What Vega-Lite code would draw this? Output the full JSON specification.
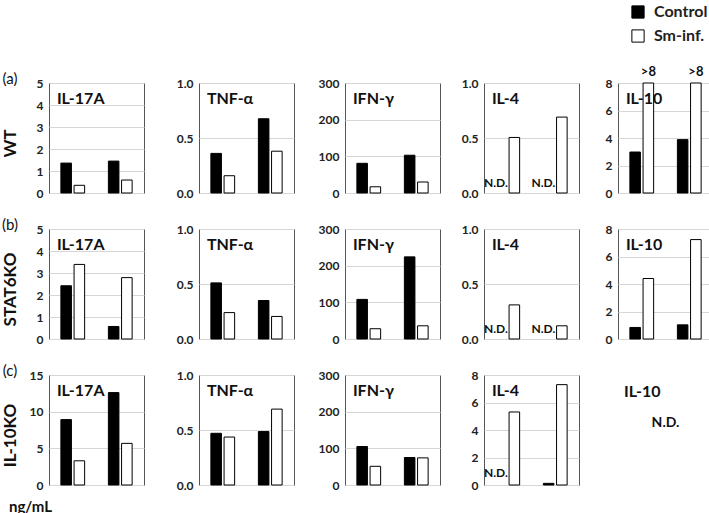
{
  "$schema": "https://vega.github.io/schema/vega-lite/v6.json",
  "padding": {"left": 0, "top": 4, "right": 0, "bottom": 0},
  "datasets": {
    "d": [
      {"genotype": "WT", "cytokine": "IL-17A", "group": "1", "condition": "Control", "value": 1.36, "note": null},
      {"genotype": "WT", "cytokine": "IL-17A", "group": "1", "condition": "Sm-inf.", "value": 0.35, "note": null},
      {"genotype": "WT", "cytokine": "IL-17A", "group": "2", "condition": "Control", "value": 1.45, "note": null},
      {"genotype": "WT", "cytokine": "IL-17A", "group": "2", "condition": "Sm-inf.", "value": 0.59, "note": null},
      {"genotype": "WT", "cytokine": "TNF-α", "group": "1", "condition": "Control", "value": 0.36, "note": null},
      {"genotype": "WT", "cytokine": "TNF-α", "group": "1", "condition": "Sm-inf.", "value": 0.157, "note": null},
      {"genotype": "WT", "cytokine": "TNF-α", "group": "2", "condition": "Control", "value": 0.675, "note": null},
      {"genotype": "WT", "cytokine": "TNF-α", "group": "2", "condition": "Sm-inf.", "value": 0.38, "note": null},
      {"genotype": "WT", "cytokine": "IFN-γ", "group": "1", "condition": "Control", "value": 81, "note": null},
      {"genotype": "WT", "cytokine": "IFN-γ", "group": "1", "condition": "Sm-inf.", "value": 17, "note": null},
      {"genotype": "WT", "cytokine": "IFN-γ", "group": "2", "condition": "Control", "value": 103, "note": null},
      {"genotype": "WT", "cytokine": "IFN-γ", "group": "2", "condition": "Sm-inf.", "value": 30, "note": null},
      {"genotype": "WT", "cytokine": "IL-4", "group": "1", "condition": "Control", "value": null, "note": "N.D."},
      {"genotype": "WT", "cytokine": "IL-4", "group": "1", "condition": "Sm-inf.", "value": 0.505, "note": null},
      {"genotype": "WT", "cytokine": "IL-4", "group": "2", "condition": "Control", "value": null, "note": "N.D."},
      {"genotype": "WT", "cytokine": "IL-4", "group": "2", "condition": "Sm-inf.", "value": 0.69, "note": null},
      {"genotype": "WT", "cytokine": "IL-10", "group": "1", "condition": "Control", "value": 2.98, "note": null},
      {"genotype": "WT", "cytokine": "IL-10", "group": "1", "condition": "Sm-inf.", "value": 8, "note": ">8"},
      {"genotype": "WT", "cytokine": "IL-10", "group": "2", "condition": "Control", "value": 3.88, "note": null},
      {"genotype": "WT", "cytokine": "IL-10", "group": "2", "condition": "Sm-inf.", "value": 8, "note": ">8"},
      {"genotype": "STAT6KO", "cytokine": "IL-17A", "group": "1", "condition": "Control", "value": 2.42, "note": null},
      {"genotype": "STAT6KO", "cytokine": "IL-17A", "group": "1", "condition": "Sm-inf.", "value": 3.39, "note": null},
      {"genotype": "STAT6KO", "cytokine": "IL-17A", "group": "2", "condition": "Control", "value": 0.57, "note": null},
      {"genotype": "STAT6KO", "cytokine": "IL-17A", "group": "2", "condition": "Sm-inf.", "value": 2.79, "note": null},
      {"genotype": "STAT6KO", "cytokine": "TNF-α", "group": "1", "condition": "Control", "value": 0.51, "note": null},
      {"genotype": "STAT6KO", "cytokine": "TNF-α", "group": "1", "condition": "Sm-inf.", "value": 0.24, "note": null},
      {"genotype": "STAT6KO", "cytokine": "TNF-α", "group": "2", "condition": "Control", "value": 0.35, "note": null},
      {"genotype": "STAT6KO", "cytokine": "TNF-α", "group": "2", "condition": "Sm-inf.", "value": 0.205, "note": null},
      {"genotype": "STAT6KO", "cytokine": "IFN-γ", "group": "1", "condition": "Control", "value": 108, "note": null},
      {"genotype": "STAT6KO", "cytokine": "IFN-γ", "group": "1", "condition": "Sm-inf.", "value": 28, "note": null},
      {"genotype": "STAT6KO", "cytokine": "IFN-γ", "group": "2", "condition": "Control", "value": 224, "note": null},
      {"genotype": "STAT6KO", "cytokine": "IFN-γ", "group": "2", "condition": "Sm-inf.", "value": 36, "note": null},
      {"genotype": "STAT6KO", "cytokine": "IL-4", "group": "1", "condition": "Control", "value": null, "note": "N.D."},
      {"genotype": "STAT6KO", "cytokine": "IL-4", "group": "1", "condition": "Sm-inf.", "value": 0.31, "note": null},
      {"genotype": "STAT6KO", "cytokine": "IL-4", "group": "2", "condition": "Control", "value": null, "note": "N.D."},
      {"genotype": "STAT6KO", "cytokine": "IL-4", "group": "2", "condition": "Sm-inf.", "value": 0.12, "note": null},
      {"genotype": "STAT6KO", "cytokine": "IL-10", "group": "1", "condition": "Control", "value": 0.84, "note": null},
      {"genotype": "STAT6KO", "cytokine": "IL-10", "group": "1", "condition": "Sm-inf.", "value": 4.4, "note": null},
      {"genotype": "STAT6KO", "cytokine": "IL-10", "group": "2", "condition": "Control", "value": 1.03, "note": null},
      {"genotype": "STAT6KO", "cytokine": "IL-10", "group": "2", "condition": "Sm-inf.", "value": 7.23, "note": null},
      {"genotype": "IL-10KO", "cytokine": "IL-17A", "group": "1", "condition": "Control", "value": 8.92, "note": null},
      {"genotype": "IL-10KO", "cytokine": "IL-17A", "group": "1", "condition": "Sm-inf.", "value": 3.3, "note": null},
      {"genotype": "IL-10KO", "cytokine": "IL-17A", "group": "2", "condition": "Control", "value": 12.6, "note": null},
      {"genotype": "IL-10KO", "cytokine": "IL-17A", "group": "2", "condition": "Sm-inf.", "value": 5.68, "note": null},
      {"genotype": "IL-10KO", "cytokine": "TNF-α", "group": "1", "condition": "Control", "value": 0.47, "note": null},
      {"genotype": "IL-10KO", "cytokine": "TNF-α", "group": "1", "condition": "Sm-inf.", "value": 0.436, "note": null},
      {"genotype": "IL-10KO", "cytokine": "TNF-α", "group": "2", "condition": "Control", "value": 0.486, "note": null},
      {"genotype": "IL-10KO", "cytokine": "TNF-α", "group": "2", "condition": "Sm-inf.", "value": 0.69, "note": null},
      {"genotype": "IL-10KO", "cytokine": "IFN-γ", "group": "1", "condition": "Control", "value": 105, "note": null},
      {"genotype": "IL-10KO", "cytokine": "IFN-γ", "group": "1", "condition": "Sm-inf.", "value": 51, "note": null},
      {"genotype": "IL-10KO", "cytokine": "IFN-γ", "group": "2", "condition": "Control", "value": 75, "note": null},
      {"genotype": "IL-10KO", "cytokine": "IFN-γ", "group": "2", "condition": "Sm-inf.", "value": 74, "note": null},
      {"genotype": "IL-10KO", "cytokine": "IL-4", "group": "1", "condition": "Control", "value": null, "note": "N.D."},
      {"genotype": "IL-10KO", "cytokine": "IL-4", "group": "1", "condition": "Sm-inf.", "value": 5.31, "note": null},
      {"genotype": "IL-10KO", "cytokine": "IL-4", "group": "2", "condition": "Control", "value": 0.12, "note": null},
      {"genotype": "IL-10KO", "cytokine": "IL-4", "group": "2", "condition": "Sm-inf.", "value": 7.3, "note": null},
      {"genotype": "IL-10KO", "cytokine": "IL-10", "group": "1", "condition": "Control", "value": null, "note": "N.D."}
    ]
  },
  "vconcat": [
    {
      "columns": 6,
      "spacing": {"row": 18, "column": 2},
      "concat": [
        {"width": 26, "height": 110, "view": {"stroke": null}, "data": {"values": [{"tag": "(a)", "name": "WT"}]},
         "layer": [
           {"mark": {"type": "text", "fontSize": 15, "baseline": "middle", "dx": -3, "dy": -4}, "encoding": {"y": {"datum": 1, "type": "quantitative", "scale": {"domain": [0, 1]}, "axis": null}, "text": {"field": "tag"}}},
           {"mark": {"type": "text", "fontSize": 17, "fontWeight": "bold", "angle": 270, "baseline": "middle", "dy": -2}, "encoding": {"y": {"datum": 0.45, "type": "quantitative", "axis": null}, "text": {"field": "name"}}}
         ]},
        {"width": 95, "height": 110, "data": {"name": "d"}, "transform": [{"filter": "datum.genotype === 'WT' && datum.cytokine === 'IL-17A'"}],
         "layer": [
           {"mark": {"type": "bar", "stroke": "#000", "strokeWidth": 1}, "encoding": {"x": {"field": "group", "type": "nominal", "axis": null, "scale": {"paddingInner": 0.5, "paddingOuter": 0.25}}, "xOffset": {"field": "condition", "type": "nominal", "scale": {"domain": ["Control", "Sm-inf."], "paddingInner": 0.2}}, "y": {"field": "value", "type": "quantitative", "scale": {"domain": [0, 5], "nice": false}, "axis": {"values": [0, 1, 2, 3, 4, 5], "minExtent": 20, "title": null}}, "color": {"field": "condition", "type": "nominal", "title": null, "scale": {"domain": ["Control", "Sm-inf."], "range": ["#000000", "#ffffff"]}}}},
           {"transform": [{"filter": "datum.group === '1' && datum.condition === 'Control'"}], "mark": {"type": "text", "align": "left", "baseline": "top", "dx": -4, "dy": 8, "fontSize": 16, "fontWeight": "bold"}, "encoding": {"x": {"field": "group", "type": "nominal", "bandPosition": 0, "axis": null}, "y": {"datum": 5, "type": "quantitative", "axis": {"values": [0, 1, 2, 3, 4, 5], "minExtent": 20, "title": null}}, "text": {"field": "cytokine"}}}
         ]},
        {"width": 95, "height": 110, "data": {"name": "d"}, "transform": [{"filter": "datum.genotype === 'WT' && datum.cytokine === 'TNF-α'"}],
         "layer": [
           {"mark": {"type": "bar", "stroke": "#000", "strokeWidth": 1}, "encoding": {"x": {"field": "group", "type": "nominal", "axis": null, "scale": {"paddingInner": 0.5, "paddingOuter": 0.25}}, "xOffset": {"field": "condition", "type": "nominal", "scale": {"domain": ["Control", "Sm-inf."], "paddingInner": 0.2}}, "y": {"field": "value", "type": "quantitative", "scale": {"domain": [0, 1], "nice": false}, "axis": {"values": [0, 0.5, 1], "format": ".1f", "minExtent": 51, "title": null}}, "color": {"field": "condition", "type": "nominal", "title": null, "scale": {"domain": ["Control", "Sm-inf."], "range": ["#000000", "#ffffff"]}}}},
           {"transform": [{"filter": "datum.group === '1' && datum.condition === 'Control'"}], "mark": {"type": "text", "align": "left", "baseline": "top", "dx": -4, "dy": 8, "fontSize": 16, "fontWeight": "bold"}, "encoding": {"x": {"field": "group", "type": "nominal", "bandPosition": 0, "axis": null}, "y": {"datum": 1, "type": "quantitative", "axis": {"values": [0, 0.5, 1], "format": ".1f", "minExtent": 51, "title": null}}, "text": {"field": "cytokine"}}}
         ]},
        {"width": 95, "height": 110, "data": {"name": "d"}, "transform": [{"filter": "datum.genotype === 'WT' && datum.cytokine === 'IFN-γ'"}],
         "layer": [
           {"mark": {"type": "bar", "stroke": "#000", "strokeWidth": 1}, "encoding": {"x": {"field": "group", "type": "nominal", "axis": null, "scale": {"paddingInner": 0.5, "paddingOuter": 0.25}}, "xOffset": {"field": "condition", "type": "nominal", "scale": {"domain": ["Control", "Sm-inf."], "paddingInner": 0.2}}, "y": {"field": "value", "type": "quantitative", "scale": {"domain": [0, 300], "nice": false}, "axis": {"values": [0, 100, 200, 300], "minExtent": 47, "title": null}}, "color": {"field": "condition", "type": "nominal", "title": null, "scale": {"domain": ["Control", "Sm-inf."], "range": ["#000000", "#ffffff"]}}}},
           {"transform": [{"filter": "datum.group === '1' && datum.condition === 'Control'"}], "mark": {"type": "text", "align": "left", "baseline": "top", "dx": -4, "dy": 8, "fontSize": 16, "fontWeight": "bold"}, "encoding": {"x": {"field": "group", "type": "nominal", "bandPosition": 0, "axis": null}, "y": {"datum": 300, "type": "quantitative", "axis": {"values": [0, 100, 200, 300], "minExtent": 47, "title": null}}, "text": {"field": "cytokine"}}}
         ]},
        {"width": 95, "height": 110, "data": {"name": "d"}, "transform": [{"filter": "datum.genotype === 'WT' && datum.cytokine === 'IL-4'"}],
         "layer": [
           {"mark": {"type": "bar", "stroke": "#000", "strokeWidth": 1}, "encoding": {"x": {"field": "group", "type": "nominal", "axis": null, "scale": {"paddingInner": 0.5, "paddingOuter": 0.25}}, "xOffset": {"field": "condition", "type": "nominal", "scale": {"domain": ["Control", "Sm-inf."], "paddingInner": 0.2}}, "y": {"field": "value", "type": "quantitative", "scale": {"domain": [0, 1], "nice": false}, "axis": {"values": [0, 0.5, 1], "format": ".1f", "minExtent": 40, "title": null}}, "color": {"field": "condition", "type": "nominal", "title": null, "scale": {"domain": ["Control", "Sm-inf."], "range": ["#000000", "#ffffff"]}}}},
           {"transform": [{"filter": "datum.group === '1' && datum.condition === 'Control'"}], "mark": {"type": "text", "align": "left", "baseline": "top", "dx": -4, "dy": 8, "fontSize": 16, "fontWeight": "bold"}, "encoding": {"x": {"field": "group", "type": "nominal", "bandPosition": 0, "axis": null}, "y": {"datum": 1, "type": "quantitative", "axis": {"values": [0, 0.5, 1], "format": ".1f", "minExtent": 40, "title": null}}, "text": {"field": "cytokine"}}},
           {"transform": [{"filter": "datum.note === 'N.D.'"}], "mark": {"type": "text", "align": "right", "baseline": "bottom", "dy": -3, "fontSize": 12, "fontWeight": "bold"}, "encoding": {"x": {"field": "group", "type": "nominal", "bandPosition": 0.5, "axis": null}, "y": {"datum": 0, "type": "quantitative", "axis": {"values": [0, 0.5, 1], "format": ".1f", "minExtent": 40, "title": null}}, "text": {"field": "note"}}}
         ]},
        {"width": 95, "height": 110, "data": {"name": "d"}, "transform": [{"filter": "datum.genotype === 'WT' && datum.cytokine === 'IL-10'"}],
         "layer": [
           {"mark": {"type": "bar", "stroke": "#000", "strokeWidth": 1}, "encoding": {"x": {"field": "group", "type": "nominal", "axis": null, "scale": {"paddingInner": 0.5, "paddingOuter": 0.25}}, "xOffset": {"field": "condition", "type": "nominal", "scale": {"domain": ["Control", "Sm-inf."], "paddingInner": 0.2}}, "y": {"field": "value", "type": "quantitative", "scale": {"domain": [0, 8], "nice": false}, "axis": {"values": [0, 2, 4, 6, 8], "minExtent": 35, "title": null}}, "color": {"field": "condition", "type": "nominal", "title": null, "scale": {"domain": ["Control", "Sm-inf."], "range": ["#000000", "#ffffff"]}}}},
           {"transform": [{"filter": "datum.group === '1' && datum.condition === 'Control'"}], "mark": {"type": "text", "align": "left", "baseline": "top", "dx": -4, "dy": 8, "fontSize": 16, "fontWeight": "bold"}, "encoding": {"x": {"field": "group", "type": "nominal", "bandPosition": 0, "axis": null}, "y": {"datum": 8, "type": "quantitative", "axis": {"values": [0, 2, 4, 6, 8], "minExtent": 35, "title": null}}, "text": {"field": "cytokine"}}},
           {"transform": [{"filter": "datum.note === '>8'"}], "mark": {"type": "text", "align": "center", "baseline": "bottom", "dy": -4, "fontSize": 13, "fontWeight": "bold"}, "encoding": {"x": {"field": "group", "type": "nominal", "bandPosition": 0.78, "axis": null}, "y": {"datum": 8, "type": "quantitative", "axis": {"values": [0, 2, 4, 6, 8], "minExtent": 35, "title": null}}, "text": {"field": "note"}}}
         ]},

        {"width": 26, "height": 110, "view": {"stroke": null}, "data": {"values": [{"tag": "(b)", "name": "STAT6KO"}]},
         "layer": [
           {"mark": {"type": "text", "fontSize": 15, "baseline": "middle", "dx": -3, "dy": -4}, "encoding": {"y": {"datum": 1, "type": "quantitative", "scale": {"domain": [0, 1]}, "axis": null}, "text": {"field": "tag"}}},
           {"mark": {"type": "text", "fontSize": 17, "fontWeight": "bold", "angle": 270, "baseline": "middle", "dy": -2}, "encoding": {"y": {"datum": 0.45, "type": "quantitative", "axis": null}, "text": {"field": "name"}}}
         ]},
        {"width": 95, "height": 110, "data": {"name": "d"}, "transform": [{"filter": "datum.genotype === 'STAT6KO' && datum.cytokine === 'IL-17A'"}],
         "layer": [
           {"mark": {"type": "bar", "stroke": "#000", "strokeWidth": 1}, "encoding": {"x": {"field": "group", "type": "nominal", "axis": null, "scale": {"paddingInner": 0.5, "paddingOuter": 0.25}}, "xOffset": {"field": "condition", "type": "nominal", "scale": {"domain": ["Control", "Sm-inf."], "paddingInner": 0.2}}, "y": {"field": "value", "type": "quantitative", "scale": {"domain": [0, 5], "nice": false}, "axis": {"values": [0, 1, 2, 3, 4, 5], "minExtent": 20, "title": null}}, "color": {"field": "condition", "type": "nominal", "title": null, "scale": {"domain": ["Control", "Sm-inf."], "range": ["#000000", "#ffffff"]}}}},
           {"transform": [{"filter": "datum.group === '1' && datum.condition === 'Control'"}], "mark": {"type": "text", "align": "left", "baseline": "top", "dx": -4, "dy": 8, "fontSize": 16, "fontWeight": "bold"}, "encoding": {"x": {"field": "group", "type": "nominal", "bandPosition": 0, "axis": null}, "y": {"datum": 5, "type": "quantitative", "axis": {"values": [0, 1, 2, 3, 4, 5], "minExtent": 20, "title": null}}, "text": {"field": "cytokine"}}}
         ]},
        {"width": 95, "height": 110, "data": {"name": "d"}, "transform": [{"filter": "datum.genotype === 'STAT6KO' && datum.cytokine === 'TNF-α'"}],
         "layer": [
           {"mark": {"type": "bar", "stroke": "#000", "strokeWidth": 1}, "encoding": {"x": {"field": "group", "type": "nominal", "axis": null, "scale": {"paddingInner": 0.5, "paddingOuter": 0.25}}, "xOffset": {"field": "condition", "type": "nominal", "scale": {"domain": ["Control", "Sm-inf."], "paddingInner": 0.2}}, "y": {"field": "value", "type": "quantitative", "scale": {"domain": [0, 1], "nice": false}, "axis": {"values": [0, 0.5, 1], "format": ".1f", "minExtent": 51, "title": null}}, "color": {"field": "condition", "type": "nominal", "title": null, "scale": {"domain": ["Control", "Sm-inf."], "range": ["#000000", "#ffffff"]}}}},
           {"transform": [{"filter": "datum.group === '1' && datum.condition === 'Control'"}], "mark": {"type": "text", "align": "left", "baseline": "top", "dx": -4, "dy": 8, "fontSize": 16, "fontWeight": "bold"}, "encoding": {"x": {"field": "group", "type": "nominal", "bandPosition": 0, "axis": null}, "y": {"datum": 1, "type": "quantitative", "axis": {"values": [0, 0.5, 1], "format": ".1f", "minExtent": 51, "title": null}}, "text": {"field": "cytokine"}}}
         ]},
        {"width": 95, "height": 110, "data": {"name": "d"}, "transform": [{"filter": "datum.genotype === 'STAT6KO' && datum.cytokine === 'IFN-γ'"}],
         "layer": [
           {"mark": {"type": "bar", "stroke": "#000", "strokeWidth": 1}, "encoding": {"x": {"field": "group", "type": "nominal", "axis": null, "scale": {"paddingInner": 0.5, "paddingOuter": 0.25}}, "xOffset": {"field": "condition", "type": "nominal", "scale": {"domain": ["Control", "Sm-inf."], "paddingInner": 0.2}}, "y": {"field": "value", "type": "quantitative", "scale": {"domain": [0, 300], "nice": false}, "axis": {"values": [0, 100, 200, 300], "minExtent": 47, "title": null}}, "color": {"field": "condition", "type": "nominal", "title": null, "scale": {"domain": ["Control", "Sm-inf."], "range": ["#000000", "#ffffff"]}}}},
           {"transform": [{"filter": "datum.group === '1' && datum.condition === 'Control'"}], "mark": {"type": "text", "align": "left", "baseline": "top", "dx": -4, "dy": 8, "fontSize": 16, "fontWeight": "bold"}, "encoding": {"x": {"field": "group", "type": "nominal", "bandPosition": 0, "axis": null}, "y": {"datum": 300, "type": "quantitative", "axis": {"values": [0, 100, 200, 300], "minExtent": 47, "title": null}}, "text": {"field": "cytokine"}}}
         ]},
        {"width": 95, "height": 110, "data": {"name": "d"}, "transform": [{"filter": "datum.genotype === 'STAT6KO' && datum.cytokine === 'IL-4'"}],
         "layer": [
           {"mark": {"type": "bar", "stroke": "#000", "strokeWidth": 1}, "encoding": {"x": {"field": "group", "type": "nominal", "axis": null, "scale": {"paddingInner": 0.5, "paddingOuter": 0.25}}, "xOffset": {"field": "condition", "type": "nominal", "scale": {"domain": ["Control", "Sm-inf."], "paddingInner": 0.2}}, "y": {"field": "value", "type": "quantitative", "scale": {"domain": [0, 1], "nice": false}, "axis": {"values": [0, 0.5, 1], "format": ".1f", "minExtent": 40, "title": null}}, "color": {"field": "condition", "type": "nominal", "title": null, "scale": {"domain": ["Control", "Sm-inf."], "range": ["#000000", "#ffffff"]}}}},
           {"transform": [{"filter": "datum.group === '1' && datum.condition === 'Control'"}], "mark": {"type": "text", "align": "left", "baseline": "top", "dx": -4, "dy": 8, "fontSize": 16, "fontWeight": "bold"}, "encoding": {"x": {"field": "group", "type": "nominal", "bandPosition": 0, "axis": null}, "y": {"datum": 1, "type": "quantitative", "axis": {"values": [0, 0.5, 1], "format": ".1f", "minExtent": 40, "title": null}}, "text": {"field": "cytokine"}}},
           {"transform": [{"filter": "datum.note === 'N.D.'"}], "mark": {"type": "text", "align": "right", "baseline": "bottom", "dy": -3, "fontSize": 12, "fontWeight": "bold"}, "encoding": {"x": {"field": "group", "type": "nominal", "bandPosition": 0.5, "axis": null}, "y": {"datum": 0, "type": "quantitative", "axis": {"values": [0, 0.5, 1], "format": ".1f", "minExtent": 40, "title": null}}, "text": {"field": "note"}}}
         ]},
        {"width": 95, "height": 110, "data": {"name": "d"}, "transform": [{"filter": "datum.genotype === 'STAT6KO' && datum.cytokine === 'IL-10'"}],
         "layer": [
           {"mark": {"type": "bar", "stroke": "#000", "strokeWidth": 1}, "encoding": {"x": {"field": "group", "type": "nominal", "axis": null, "scale": {"paddingInner": 0.5, "paddingOuter": 0.25}}, "xOffset": {"field": "condition", "type": "nominal", "scale": {"domain": ["Control", "Sm-inf."], "paddingInner": 0.2}}, "y": {"field": "value", "type": "quantitative", "scale": {"domain": [0, 8], "nice": false}, "axis": {"values": [0, 2, 4, 6, 8], "minExtent": 35, "title": null}}, "color": {"field": "condition", "type": "nominal", "title": null, "scale": {"domain": ["Control", "Sm-inf."], "range": ["#000000", "#ffffff"]}}}},
           {"transform": [{"filter": "datum.group === '1' && datum.condition === 'Control'"}], "mark": {"type": "text", "align": "left", "baseline": "top", "dx": -4, "dy": 8, "fontSize": 16, "fontWeight": "bold"}, "encoding": {"x": {"field": "group", "type": "nominal", "bandPosition": 0, "axis": null}, "y": {"datum": 8, "type": "quantitative", "axis": {"values": [0, 2, 4, 6, 8], "minExtent": 35, "title": null}}, "text": {"field": "cytokine"}}}
         ]},

        {"width": 26, "height": 110, "view": {"stroke": null}, "data": {"values": [{"tag": "(c)", "name": "IL-10KO"}]},
         "layer": [
           {"mark": {"type": "text", "fontSize": 15, "baseline": "middle", "dx": -3, "dy": -4}, "encoding": {"y": {"datum": 1, "type": "quantitative", "scale": {"domain": [0, 1]}, "axis": null}, "text": {"field": "tag"}}},
           {"mark": {"type": "text", "fontSize": 17, "fontWeight": "bold", "angle": 270, "baseline": "middle", "dy": -2}, "encoding": {"y": {"datum": 0.45, "type": "quantitative", "axis": null}, "text": {"field": "name"}}}
         ]},
        {"width": 95, "height": 110, "data": {"name": "d"}, "transform": [{"filter": "datum.genotype === 'IL-10KO' && datum.cytokine === 'IL-17A'"}],
         "layer": [
           {"mark": {"type": "bar", "stroke": "#000", "strokeWidth": 1}, "encoding": {"x": {"field": "group", "type": "nominal", "axis": null, "scale": {"paddingInner": 0.5, "paddingOuter": 0.25}}, "xOffset": {"field": "condition", "type": "nominal", "scale": {"domain": ["Control", "Sm-inf."], "paddingInner": 0.2}}, "y": {"field": "value", "type": "quantitative", "scale": {"domain": [0, 15], "nice": false}, "axis": {"values": [0, 5, 10, 15], "minExtent": 20, "title": null}}, "color": {"field": "condition", "type": "nominal", "title": null, "scale": {"domain": ["Control", "Sm-inf."], "range": ["#000000", "#ffffff"]}}}},
           {"transform": [{"filter": "datum.group === '1' && datum.condition === 'Control'"}], "mark": {"type": "text", "align": "left", "baseline": "top", "dx": -4, "dy": 8, "fontSize": 16, "fontWeight": "bold"}, "encoding": {"x": {"field": "group", "type": "nominal", "bandPosition": 0, "axis": null}, "y": {"datum": 15, "type": "quantitative", "axis": {"values": [0, 5, 10, 15], "minExtent": 20, "title": null}}, "text": {"field": "cytokine"}}}
         ]},
        {"width": 95, "height": 110, "data": {"name": "d"}, "transform": [{"filter": "datum.genotype === 'IL-10KO' && datum.cytokine === 'TNF-α'"}],
         "layer": [
           {"mark": {"type": "bar", "stroke": "#000", "strokeWidth": 1}, "encoding": {"x": {"field": "group", "type": "nominal", "axis": null, "scale": {"paddingInner": 0.5, "paddingOuter": 0.25}}, "xOffset": {"field": "condition", "type": "nominal", "scale": {"domain": ["Control", "Sm-inf."], "paddingInner": 0.2}}, "y": {"field": "value", "type": "quantitative", "scale": {"domain": [0, 1], "nice": false}, "axis": {"values": [0, 0.5, 1], "format": ".1f", "minExtent": 51, "title": null}}, "color": {"field": "condition", "type": "nominal", "title": null, "scale": {"domain": ["Control", "Sm-inf."], "range": ["#000000", "#ffffff"]}}}},
           {"transform": [{"filter": "datum.group === '1' && datum.condition === 'Control'"}], "mark": {"type": "text", "align": "left", "baseline": "top", "dx": -4, "dy": 8, "fontSize": 16, "fontWeight": "bold"}, "encoding": {"x": {"field": "group", "type": "nominal", "bandPosition": 0, "axis": null}, "y": {"datum": 1, "type": "quantitative", "axis": {"values": [0, 0.5, 1], "format": ".1f", "minExtent": 51, "title": null}}, "text": {"field": "cytokine"}}}
         ]},
        {"width": 95, "height": 110, "data": {"name": "d"}, "transform": [{"filter": "datum.genotype === 'IL-10KO' && datum.cytokine === 'IFN-γ'"}],
         "layer": [
           {"mark": {"type": "bar", "stroke": "#000", "strokeWidth": 1}, "encoding": {"x": {"field": "group", "type": "nominal", "axis": null, "scale": {"paddingInner": 0.5, "paddingOuter": 0.25}}, "xOffset": {"field": "condition", "type": "nominal", "scale": {"domain": ["Control", "Sm-inf."], "paddingInner": 0.2}}, "y": {"field": "value", "type": "quantitative", "scale": {"domain": [0, 300], "nice": false}, "axis": {"values": [0, 100, 200, 300], "minExtent": 47, "title": null}}, "color": {"field": "condition", "type": "nominal", "title": null, "scale": {"domain": ["Control", "Sm-inf."], "range": ["#000000", "#ffffff"]}}}},
           {"transform": [{"filter": "datum.group === '1' && datum.condition === 'Control'"}], "mark": {"type": "text", "align": "left", "baseline": "top", "dx": -4, "dy": 8, "fontSize": 16, "fontWeight": "bold"}, "encoding": {"x": {"field": "group", "type": "nominal", "bandPosition": 0, "axis": null}, "y": {"datum": 300, "type": "quantitative", "axis": {"values": [0, 100, 200, 300], "minExtent": 47, "title": null}}, "text": {"field": "cytokine"}}}
         ]},
        {"width": 95, "height": 110, "data": {"name": "d"}, "transform": [{"filter": "datum.genotype === 'IL-10KO' && datum.cytokine === 'IL-4'"}],
         "layer": [
           {"mark": {"type": "bar", "stroke": "#000", "strokeWidth": 1}, "encoding": {"x": {"field": "group", "type": "nominal", "axis": null, "scale": {"paddingInner": 0.5, "paddingOuter": 0.25}}, "xOffset": {"field": "condition", "type": "nominal", "scale": {"domain": ["Control", "Sm-inf."], "paddingInner": 0.2}}, "y": {"field": "value", "type": "quantitative", "scale": {"domain": [0, 8], "nice": false}, "axis": {"values": [0, 2, 4, 6, 8], "minExtent": 40, "title": null}}, "color": {"field": "condition", "type": "nominal", "title": null, "scale": {"domain": ["Control", "Sm-inf."], "range": ["#000000", "#ffffff"]}}}},
           {"transform": [{"filter": "datum.group === '1' && datum.condition === 'Control'"}], "mark": {"type": "text", "align": "left", "baseline": "top", "dx": -4, "dy": 8, "fontSize": 16, "fontWeight": "bold"}, "encoding": {"x": {"field": "group", "type": "nominal", "bandPosition": 0, "axis": null}, "y": {"datum": 8, "type": "quantitative", "axis": {"values": [0, 2, 4, 6, 8], "minExtent": 40, "title": null}}, "text": {"field": "cytokine"}}},
           {"transform": [{"filter": "datum.note === 'N.D.'"}], "mark": {"type": "text", "align": "right", "baseline": "bottom", "dy": -5, "fontSize": 12, "fontWeight": "bold"}, "encoding": {"x": {"field": "group", "type": "nominal", "bandPosition": 0.5, "axis": null}, "y": {"datum": 0, "type": "quantitative", "axis": {"values": [0, 2, 4, 6, 8], "minExtent": 40, "title": null}}, "text": {"field": "note"}}}
         ]},
        {"width": 95, "height": 110, "view": {"stroke": null}, "data": {"name": "d"}, "transform": [{"filter": "datum.genotype === 'IL-10KO' && datum.cytokine === 'IL-10'"}],
         "layer": [
           {"mark": {"type": "text", "align": "left", "baseline": "top", "dx": 6, "dy": 9, "fontSize": 16, "fontWeight": "bold"}, "encoding": {"x": {"datum": 0, "type": "quantitative", "scale": {"domain": [0, 1]}, "axis": null}, "y": {"datum": 8, "type": "quantitative", "scale": {"domain": [0, 8]}, "axis": null}, "text": {"field": "cytokine"}}},
           {"mark": {"type": "text", "fontSize": 14, "fontWeight": "bold", "baseline": "middle"}, "encoding": {"x": {"datum": 0.5, "type": "quantitative", "axis": null}, "y": {"datum": 4.5, "type": "quantitative", "axis": null}, "text": {"field": "note"}}}
         ]}
      ]
    },
    {"width": 61, "height": 15, "view": {"stroke": null}, "data": {"values": [{"unit": "ng/mL"}]},
     "mark": {"type": "text", "fontSize": 15, "fontWeight": "bold", "baseline": "middle"},
     "encoding": {"text": {"field": "unit"}}}
  ],
  "spacing": 7,
  "config": {
    "font": "Lato",
    "text": {"color": "#111"},
    "view": {"stroke": "#555", "strokeWidth": 1},
    "axis": {"labelFont": "Lato", "labelFontSize": 12, "labelFontWeight": "bold", "labelColor": "#222", "labelPadding": 6, "labelOverlap": false, "labelFlush": false, "labelBound": false, "ticks": false, "domain": false, "grid": true, "gridColor": "#d6d6d6", "gridWidth": 1},
    "legend": {"orient": "none", "legendX": 630, "legendY": -79, "padding": 0, "symbolType": "square", "symbolSize": 150, "symbolStrokeColor": "#000", "symbolStrokeWidth": 1, "labelFont": "Lato", "labelFontSize": 16, "labelFontWeight": "bold", "labelColor": "#222", "labelOffset": 8, "rowPadding": 6}
  }
}
